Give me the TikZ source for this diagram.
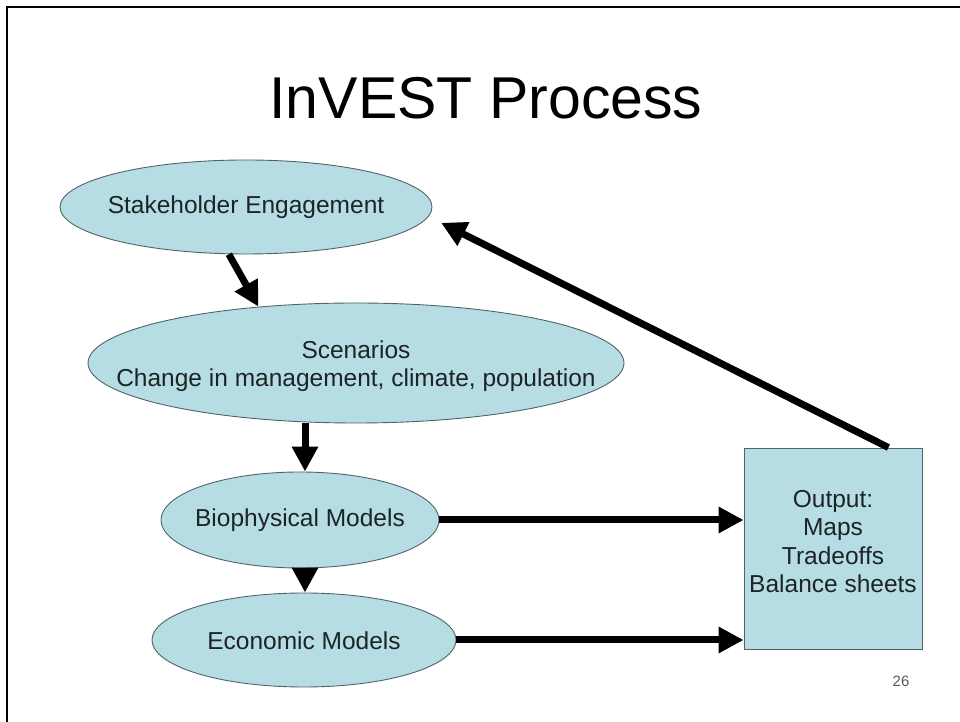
\documentclass[tikz,border=0pt]{standalone}
\usepackage{fontspec}
\setmainfont{Liberation Sans}
\usetikzlibrary{shapes.geometric,arrows.meta}

\definecolor{skyfill}{RGB}{183,221,228}
\definecolor{rimgray}{RGB}{80,100,104}
\definecolor{inkdark}{RGB}{28,36,38}
\definecolor{pagegray}{RGB}{90,90,90}

\tikzset{
  x=1pt, y=1pt,
  bubble/.style={ellipse, draw=rimgray, line width=0.9pt, fill=skyfill, inner sep=0pt},
  outbox/.style={rectangle, draw=rimgray, line width=0.9pt, fill=skyfill, inner sep=0pt},
  caption/.style={text=inkdark, align=center, font=\fontsize{24.5}{28.5}\selectfont},
  flow/.style={line width=7pt, draw=black, -{Triangle[length=25pt,width=25pt]}},
}

\begin{document}
\begin{tikzpicture}
  \useasboundingbox (0,0) rectangle (960,722);

  % slide frame (top and left edges)
  \draw[line width=2.6pt] (7,0) -- (7,715) -- (960,715);

  % title
  \node[anchor=base, font=\fontsize{59}{64}\selectfont, text=black] (title) at (486,603) {InVEST Process};

  % process stages
  \node[bubble, minimum width=372pt, minimum height=94pt,
        label={[caption]center:Stakeholder Engagement}] (stake) at (246,515) {};
  \node[bubble, minimum width=536pt, minimum height=120pt,
        label={[caption, yshift=-3pt]center:Scenarios\\Change in management, climate, population}] (scen) at (356,359) {};
  \node[bubble, minimum width=278pt, minimum height=96pt,
        label={[caption]center:Biophysical Models}] (bio) at (300,202) {};
  \node[bubble, minimum width=304pt, minimum height=94pt,
        label={[caption, yshift=-1pt]center:Economic Models}] (econ) at (304,82) {};
  \node[outbox, minimum width=178pt, minimum height=201pt,
        label={[caption, yshift=7pt]center:Output:\\Maps\\Tradeoffs\\Balance sheets}] (out) at (833,173.5) {};

  % page number
  \node[text=pagegray, font=\fontsize{15}{18}\selectfont] (pagenum) at (901,41) {26};

  % connectors
  \coordinate (fbstart) at ([xshift=-34pt]out.north east);
  \draw[flow] (stake.-110) -- (scen.150);
  \draw[flow] ([xshift=5pt]bio.north |- scen.south) -- ([xshift=5pt]bio.north);
  \draw[flow] ([xshift=5pt]bio.south) -- ([xshift=5pt]bio.south |- econ.north);
  \draw[flow] (bio.east) -- (bio.east -| out.west);
  \draw[flow] (econ.east) -- (econ.east -| out.west);
  \draw[flow, shorten >=14pt] (fbstart) -- (stake.-3);
\end{tikzpicture}
\end{document}
